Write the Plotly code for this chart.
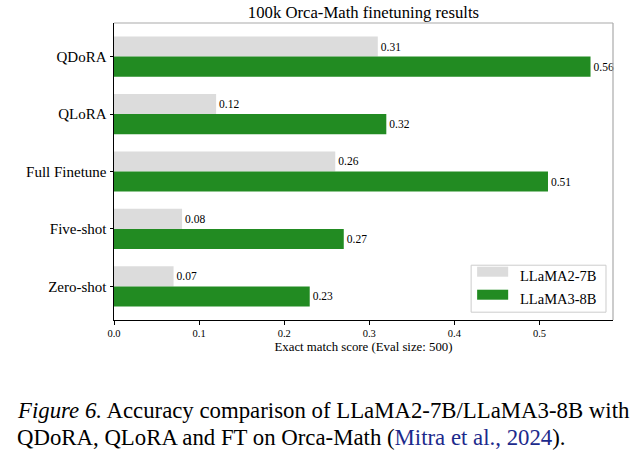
import plotly.graph_objects as go

categories = ["Zero-shot", "Five-shot", "Full Finetune", "QLoRA", "QDoRA"]
llama2_7b = [0.07, 0.08, 0.26, 0.12, 0.31]
llama3_8b = [0.23, 0.27, 0.51, 0.32, 0.56]
series_names = ["LLaMA2-7B", "LLaMA3-8B"]
x_ticks = [0.0, 0.1, 0.2, 0.3, 0.4, 0.5]

GRAY = "#dcdcdc"
GREEN = "#228b22"
FONT = "Liberation Serif"

pos = list(range(len(categories)))

L, R, T, B = 114.3, 612.7, 22.7, 319.8
W, H = 635, 460
def px(x):
    return (x - L) / (R - L)
def py(y):
    return (B - y) / (B - T)

fig = go.Figure()
fig.add_trace(go.Bar(
    y=pos, x=llama2_7b, orientation="h", name=series_names[0],
    marker=dict(color=GRAY, line=dict(width=0)),
    width=0.35, offset=0.0,
    text=[f"{v:.2f}" for v in llama2_7b], textposition="outside",
    textfont=dict(family=FONT, size=11.5, color="black"),
    constraintext="none", cliponaxis=False, showlegend=False, hoverinfo="skip",
))
fig.add_trace(go.Bar(
    y=pos, x=llama3_8b, orientation="h", name=series_names[1],
    marker=dict(color=GREEN, line=dict(width=0)),
    width=0.35, offset=-0.35,
    text=[f"{v:.2f}" for v in llama3_8b], textposition="outside",
    textfont=dict(family=FONT, size=11.5, color="black"),
    constraintext="none", cliponaxis=False, showlegend=False, hoverinfo="skip",
))

shapes = [
    dict(type="line", xref="paper", yref="paper", x0=0, x1=1, y0=1, y1=1,
         line=dict(color="#aaaaaa", width=1.2)),
    dict(type="line", xref="paper", yref="paper", x0=1, x1=1, y0=0, y1=1,
         line=dict(color="#aaaaaa", width=1.2)),
    dict(type="rect", xref="paper", yref="paper",
         x0=px(471), x1=px(605.7), y0=py(312), y1=py(265),
         line=dict(color="#cccccc", width=1), fillcolor="rgba(255,255,255,0.8)",
         layer="above"),
    dict(type="rect", xref="paper", yref="paper",
         x0=px(477), x1=px(508), y0=py(276.5), y1=py(266.5),
         line=dict(width=0), fillcolor=GRAY, layer="above"),
    dict(type="rect", xref="paper", yref="paper",
         x0=px(477), x1=px(508), y0=py(299.5), y1=py(289.5),
         line=dict(width=0), fillcolor=GREEN, layer="above"),
]

annotations = [
    dict(xref="paper", yref="paper", x=px(518), y=py(276), xanchor="left", yanchor="middle",
         text=series_names[0], showarrow=False, font=dict(family=FONT, size=14.5, color="black")),
    dict(xref="paper", yref="paper", x=px(518), y=py(299), xanchor="left", yanchor="middle",
         text=series_names[1], showarrow=False, font=dict(family=FONT, size=14.5, color="black")),
    dict(xref="paper", yref="paper", x=px(15), y=py(410), xanchor="left", yanchor="middle",
         text="<i>Figure 6.</i> Accuracy comparison of LLaMA2-7B/LLaMA3-8B with",
         showarrow=False, font=dict(family=FONT, size=22.8, color="black")),
    dict(xref="paper", yref="paper", x=px(15), y=py(437), xanchor="left", yanchor="middle",
         text="QDoRA, QLoRA and FT on Orca-Math (<span style='color:#1c2a8c'>Mitra et al., 2024</span>).",
         showarrow=False, font=dict(family=FONT, size=22.8, color="black")),
]

fig.update_layout(
    width=W, height=H,
    margin=dict(l=L, r=W - R, t=T, b=H - B, pad=0),
    paper_bgcolor="white", plot_bgcolor="white",
    barmode="overlay",
    title=dict(text="100k Orca-Math finetuning results", x=(L + R) / 2 / W, xanchor="center",
               y=1 - 12 / H, yanchor="middle", font=dict(family=FONT, size=16.7, color="black")),
    xaxis=dict(range=[0, 0.5864], tickvals=x_ticks, ticktext=[f"{v:.1f}" for v in x_ticks],
               ticks="outside", ticklen=3.5, tickwidth=0.8, tickcolor="black",
               showline=True, linecolor="black", linewidth=1, showgrid=False, zeroline=False,
               tickfont=dict(family=FONT, size=10.5, color="black"),
               title=dict(text="Exact match score (Eval size: 500)", standoff=3,
                          font=dict(family=FONT, size=12.8, color="black"))),
    yaxis=dict(range=[-0.585, 4.585], tickvals=pos, ticktext=categories,
               ticks="outside", ticklen=3.5, tickwidth=0.8, tickcolor="black",
               showline=True, linecolor="black", linewidth=1, showgrid=False, zeroline=False,
               tickfont=dict(family=FONT, size=15, color="black")),
    shapes=shapes, annotations=annotations,
    font=dict(family=FONT),
)

fig.write_html("out.html", config={"displayModeBar": False},
               post_script="document.body.style.margin='0';document.body.style.overflow='hidden';")
